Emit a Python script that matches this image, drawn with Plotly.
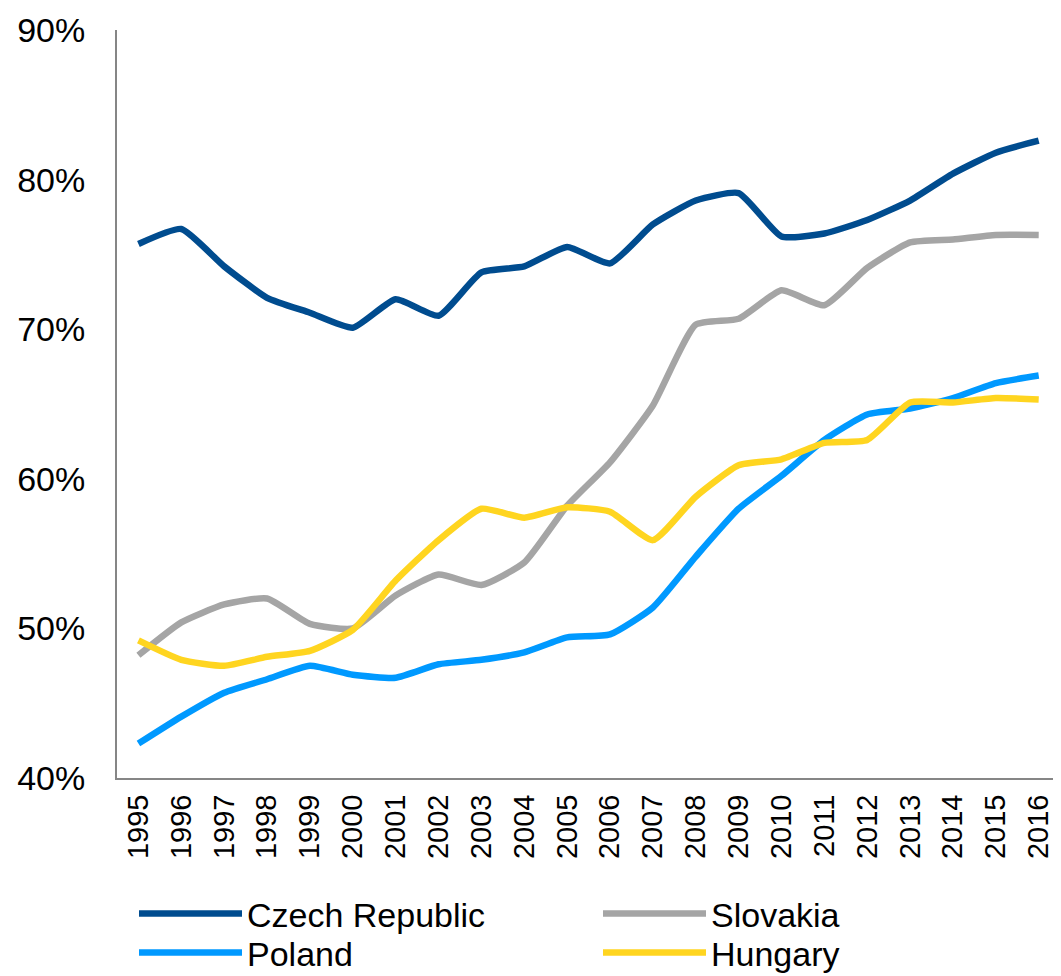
import plotly.graph_objects as go

years = list(range(1995, 2017))
czech = [75.7, 76.7, 74.2, 72.1, 71.1, 70.1, 72.0, 70.9, 73.8, 74.2, 75.5, 74.4,
         77.0, 78.6, 79.1, 76.2, 76.4, 77.3, 78.6, 80.4, 81.8, 82.6]
slovakia = [48.2, 50.4, 51.6, 52.0, 50.3, 50.0, 52.2, 53.6, 52.9, 54.4, 58.2, 61.1,
            64.9, 70.3, 70.7, 72.6, 71.6, 74.1, 75.8, 76.0, 76.3, 76.3]
poland = [42.3, 44.1, 45.7, 46.6, 47.5, 46.9, 46.7, 47.6, 47.9, 48.4, 49.4, 49.6,
          51.4, 54.8, 58.0, 60.2, 62.6, 64.3, 64.7, 65.4, 66.4, 66.9]
hungary = [49.2, 47.9, 47.5, 48.1, 48.5, 49.9, 53.2, 55.9, 58.0, 57.4, 58.1, 57.8,
           55.9, 58.8, 60.9, 61.3, 62.4, 62.6, 65.1, 65.1, 65.4, 65.3]

series = [
    ("Czech Republic", czech, "#004C8F", "legend"),
    ("Slovakia", slovakia, "#A5A5A5", "legend"),
    ("Poland", poland, "#0099FF", "legend2"),
    ("Hungary", hungary, "#FFD520", "legend2"),
]

fig = go.Figure()
for name, vals, color, leg in series:
    fig.add_trace(go.Scatter(
        x=years, y=vals, name=name, mode="lines", legend=leg,
        line=dict(color=color, width=6.5, shape="spline", smoothing=0.5),
    ))

font_family = "Liberation Sans, Arial, sans-serif"

W, H = 1061, 976
OFF = 8  # page body offset

leg_common = dict(
    orientation="h", xref="container", yref="container",
    x=(134 - OFF) / W, xanchor="left", yanchor="middle",
    entrywidth=346, entrywidthmode="pixels",
    font=dict(size=34, family=font_family, color="black"),
    itemwidth=103, tracegroupgap=0, bgcolor="rgba(0,0,0,0)",
)

fig.update_layout(
    width=W, height=H,
    margin=dict(l=117 - OFF, r=11, t=30 - OFF, b=H - (778 - OFF)),
    paper_bgcolor="white", plot_bgcolor="white",
    font=dict(family=font_family, color="black"),
    showlegend=True,
    legend=dict(leg_common, y=(H - (914 - OFF)) / H),
    legend2=dict(leg_common, y=(H - (953 - OFF)) / H),
    xaxis=dict(
        range=[1994.5, 2016.45], tickmode="array", tickvals=years,
        ticktext=[str(y) for y in years], tickangle=-90,
        tickfont=dict(size=29), showgrid=False, zeroline=False,
        showline=True, linecolor="#868686", linewidth=2, ticks="",
        ticklabelstandoff=3, automargin=False,
    ),
    yaxis=dict(
        range=[40, 90], tickmode="array", tickvals=[40, 50, 60, 70, 80, 90],
        ticktext=["40%", "50%", "60%", "70%", "80%", "90%"],
        tickfont=dict(size=34), showgrid=False, zeroline=False,
        showline=True, linecolor="#868686", linewidth=2, ticks="",
        ticklabelstandoff=23, automargin=False,
    ),
)

fig.write_html("out.html")
